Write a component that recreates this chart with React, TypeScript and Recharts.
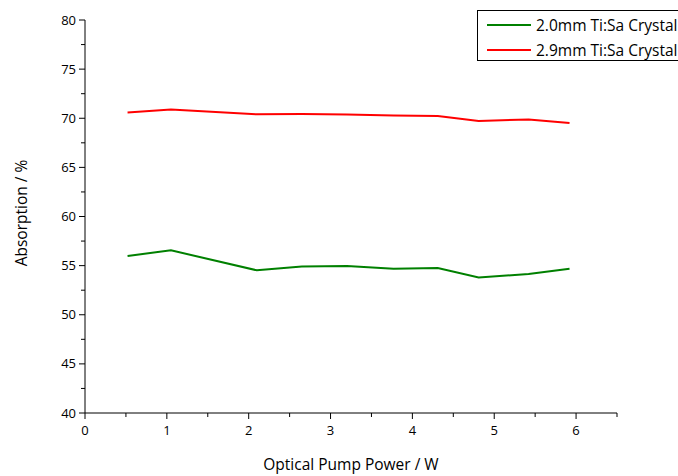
import { FC } from "react";
import { LineChart, Line, XAxis, YAxis } from "recharts";

const power = [0.52, 1.05, 2.1, 2.65, 3.2, 3.77, 4.31, 4.81, 5.42, 5.92];
const crystal20 = [55.98, 56.56, 54.52, 54.91, 54.97, 54.68, 54.75, 53.8, 54.15, 54.68];
const crystal29 = [70.58, 70.88, 70.4, 70.44, 70.38, 70.28, 70.22, 69.72, 69.88, 69.52];

const xTicks = [0, 0.5, 1, 1.5, 2, 2.5, 3, 3.5, 4, 4.5, 5, 5.5, 6, 6.5];
const yTicks = [40, 42.5, 45, 47.5, 50, 52.5, 55, 57.5, 60, 62.5, 65, 67.5, 70, 72.5, 75, 77.5, 80];

const seriesInfo = [
  { key: "a", name: "2.0mm Ti:Sa Crystal", color: "#008000" },
  { key: "b", name: "2.9mm Ti:Sa Crystal", color: "#ff0000" },
];

const data = power.map((p, i) => ({ p, a: crystal20[i], b: crystal29[i] }));

const FONT = "'Open Sans', sans-serif";

const XTick: FC<any> = ({ x, y, payload }) => {
  const v = payload.value as number;
  const major = Number.isInteger(v);
  return (
    <g>
      <line x1={x} x2={x} y1={y} y2={y + (major ? 6 : 4)} stroke="#000" />
      {major && v <= 6 && (
        <text x={x} y={y + 22} textAnchor="middle" fontSize={13} fontFamily={FONT} fill="#000">
          {v}
        </text>
      )}
    </g>
  );
};

const YTick: FC<any> = ({ x, y, payload }) => {
  const v = payload.value as number;
  const major = v % 5 === 0;
  return (
    <g>
      <line x1={x} x2={x - (major ? 6 : 4)} y1={y} y2={y} stroke="#000" />
      {major && (
        <text x={x - 9} y={y + 4.5} textAnchor="end" fontSize={13} fontFamily={FONT} fill="#000">
          {v}
        </text>
      )}
    </g>
  );
};

const LegendBox: FC = () => (
  <div
    style={{
      position: "absolute",
      left: 477,
      top: 10,
      border: "1px solid #000",
      background: "#fff",
      width: 240,
      height: 51,
      boxSizing: "border-box",
      fontFamily: FONT,
      fontSize: 15.5,
      paddingTop: 1,
    }}
  >
    {seriesInfo.map((s) => (
      <div key={s.key} style={{ display: "flex", alignItems: "center", height: 25, whiteSpace: "nowrap" }}>
        <div style={{ width: 44, height: 2, background: s.color, marginLeft: 9, marginRight: 5 }} />
        <span>{s.name}</span>
      </div>
    ))}
  </div>
);

const App: FC = () => (
  <div style={{ position: "fixed", left: 0, top: 0, width: 678, height: 476, overflow: "hidden", background: "#fff" }}>
    <LineChart width={678} height={476} data={data} margin={{ top: 20, right: 61, left: 0, bottom: 33 }}>
      <XAxis
        dataKey="p"
        type="number"
        domain={[0, 6.5]}
        ticks={xTicks}
        interval={0}
        tickSize={0}
        tickMargin={0}
        tickLine={false}
        tick={<XTick />}
        height={30}
        axisLine={{ stroke: "#000" }}
      />
      <YAxis
        type="number"
        domain={[40, 80]}
        ticks={yTicks}
        interval={0}
        tickSize={0}
        tickMargin={0}
        tickLine={false}
        tick={<YTick />}
        width={85}
        axisLine={{ stroke: "#000" }}
      />
      {seriesInfo.map((s) => (
        <Line
          key={s.key}
          dataKey={s.key}
          name={s.name}
          stroke={s.color}
          strokeWidth={2}
          dot={false}
          isAnimationActive={false}
        />
      ))}
      <text x={351} y={470} textAnchor="middle" fontSize={15.5} fontFamily={FONT} fill="#000">
        Optical Pump Power / W
      </text>
      <text
        x={27}
        y={213}
        textAnchor="middle"
        fontSize={15.5}
        fontFamily={FONT}
        fill="#000"
        transform="rotate(-90 27 213)"
      >
        Absorption / %
      </text>
    </LineChart>
    <LegendBox />
  </div>
);

export default App;
